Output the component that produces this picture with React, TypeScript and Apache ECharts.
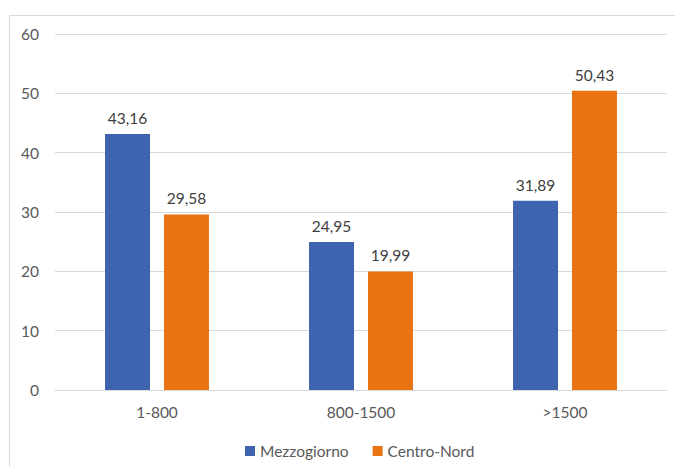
import React, { useEffect, useRef } from "react";
import * as echarts from "echarts";

const categories = ["1-800", "800-1500", ">1500"];
const mezzogiorno = [43.16, 24.95, 31.89];
const centroNord = [29.58, 19.99, 50.43];
const seriesNames = ["Mezzogiorno", "Centro-Nord"];

const FONT = "Lato, 'Open Sans', sans-serif";

export default function App() {
  const ref = useRef<HTMLDivElement>(null);
  useEffect(() => {
    if (!ref.current) return;
    const chart = echarts.init(ref.current, null, { renderer: "svg" });
    const fmt = (p: any) => Number(p.value).toFixed(2).replace(".", ",");
    chart.setOption({
      animation: false,
      backgroundColor: "#ffffff",
      textStyle: { fontFamily: FONT },
      graphic: [
        {
          type: "rect",
          shape: { x: 9.5, y: 15.5, width: 720, height: 500 },
          style: { fill: "none", stroke: "#d9d9d9", lineWidth: 1 },
          silent: true,
        },
      ],
      grid: { left: 55, right: 8, top: 34, bottom: 77, containLabel: false },
      legend: {
        top: 438,
        left: 240,
        itemWidth: 10,
        itemHeight: 10,
        itemGap: 24,
        icon: "rect",
        textStyle: { color: "#595959", fontSize: 15.5, fontFamily: FONT },
        data: seriesNames,
      },
      xAxis: {
        type: "category",
        data: categories,
        axisLine: { show: true, lineStyle: { color: "#d9d9d9" } },
        axisTick: { show: false },
        axisLabel: { color: "#595959", fontSize: 15.5, margin: 14, fontFamily: FONT },
      },
      yAxis: {
        type: "value",
        min: 0,
        max: 60,
        interval: 10,
        axisLine: { show: false },
        axisTick: { show: false },
        axisLabel: { color: "#595959", fontSize: 15.5, margin: 16, fontFamily: FONT },
        splitLine: { lineStyle: { color: "#d9d9d9" } },
      },
      series: [
        {
          name: seriesNames[0],
          type: "bar",
          data: mezzogiorno,
          barWidth: 45,
          barGap: "31%",
          itemStyle: { color: "#3F64AF" },
          label: { show: true, position: "top", distance: 8, color: "#404040", fontSize: 15.5, fontFamily: FONT, formatter: fmt },
        },
        {
          name: seriesNames[1],
          type: "bar",
          data: centroNord,
          barWidth: 45,
          itemStyle: { color: "#E97312" },
          label: { show: true, position: "top", distance: 8, color: "#404040", fontSize: 15.5, fontFamily: FONT, formatter: fmt },
        },
      ],
    });
    return () => chart.dispose();
  }, []);
  return (
    <div
      ref={ref}
      style={{ position: "absolute", left: 0, top: 0, width: 675, height: 467 }}
    />
  );
}
